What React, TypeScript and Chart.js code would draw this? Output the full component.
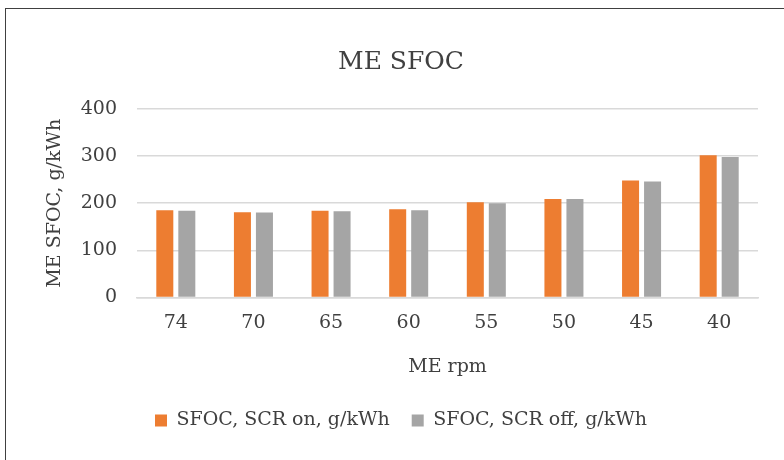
import React, { useEffect, useRef } from "react";
import { Chart, registerables } from "chart.js";

Chart.register(...registerables);

const categories = ["74", "70", "65", "60", "55", "50", "45", "40"];
const scrOn = [185, 181, 184, 187, 202, 209, 248, 302];
const scrOff = [184, 180, 183, 185, 200, 209, 246, 298];
const seriesNames = ["SFOC, SCR on, g/kWh", "SFOC, SCR off, g/kWh"];

const FONT = "'DejaVu Serif', serif";
const TEXT = "#404040";

export default function App() {
  const ref = useRef<HTMLCanvasElement>(null);
  useEffect(() => {
    if (!ref.current) return;
    const chart = new Chart(ref.current, {
      type: "bar",
      data: {
        labels: categories,
        datasets: [
          {
            label: seriesNames[0],
            data: scrOn,
            backgroundColor: "#ED7D31",
            categoryPercentage: 0.567,
            barPercentage: 0.773,
          },
          {
            label: seriesNames[1],
            data: scrOff,
            backgroundColor: "#A5A5A5",
            categoryPercentage: 0.567,
            barPercentage: 0.773,
          },
        ],
      },
      options: {
        animation: false,
        responsive: false,
        maintainAspectRatio: false,
        layout: { padding: { top: 47, left: 44, right: 26, bottom: 20 } },
        plugins: {
          title: {
            display: true,
            text: "ME SFOC",
            color: TEXT,
            font: { family: FONT, size: 25, weight: "normal" },
            padding: { top: 0, bottom: 32 },
          },
          legend: {
            position: "bottom",
            labels: {
              color: TEXT,
              font: { family: FONT, size: 19 },
              boxWidth: 12,
              boxHeight: 12,
              padding: 22,
            },
          },
          tooltip: { enabled: false },
        },
        scales: {
          x: {
            grid: { display: false, drawTicks: false },
            border: { color: "#D9D9D9", width: 1.5 },
            ticks: { color: TEXT, font: { family: FONT, size: 19 }, padding: 14 },
            title: {
              display: true,
              text: "ME rpm",
              color: TEXT,
              font: { family: FONT, size: 19 },
              padding: { top: 7, bottom: 11 },
            },
          },
          y: {
            min: 0,
            max: 400,
            afterFit: (s: any) => {
              s.width = 93;
            },
            grid: { color: "#D9D9D9", lineWidth: 1.5, drawTicks: false },
            border: { display: false },
            ticks: {
              stepSize: 100,
              color: TEXT,
              font: { family: FONT, size: 19 },
              padding: 20,
            },
            title: {
              display: true,
              text: "ME SFOC, g/kWh",
              color: TEXT,
              font: { family: FONT, size: 19 },
              padding: { top: 0, bottom: 0 },
            },
          },
        },
      },
    });
    return () => chart.destroy();
  }, []);
  return (
    <div style={{ position: "absolute", left: 0, top: 0, width: 784, height: 460, overflow: "hidden", background: "#fff" }}>
      <canvas ref={ref} width={784} height={460} style={{ position: "absolute", left: 0, top: 0 }} />
      <div
        style={{
          position: "absolute",
          left: 5,
          top: 8,
          width: 779,
          height: 452,
          borderLeft: "1px solid #404040",
          borderTop: "1px solid #404040",
          boxSizing: "border-box",
          pointerEvents: "none",
        }}
      />
    </div>
  );
}
